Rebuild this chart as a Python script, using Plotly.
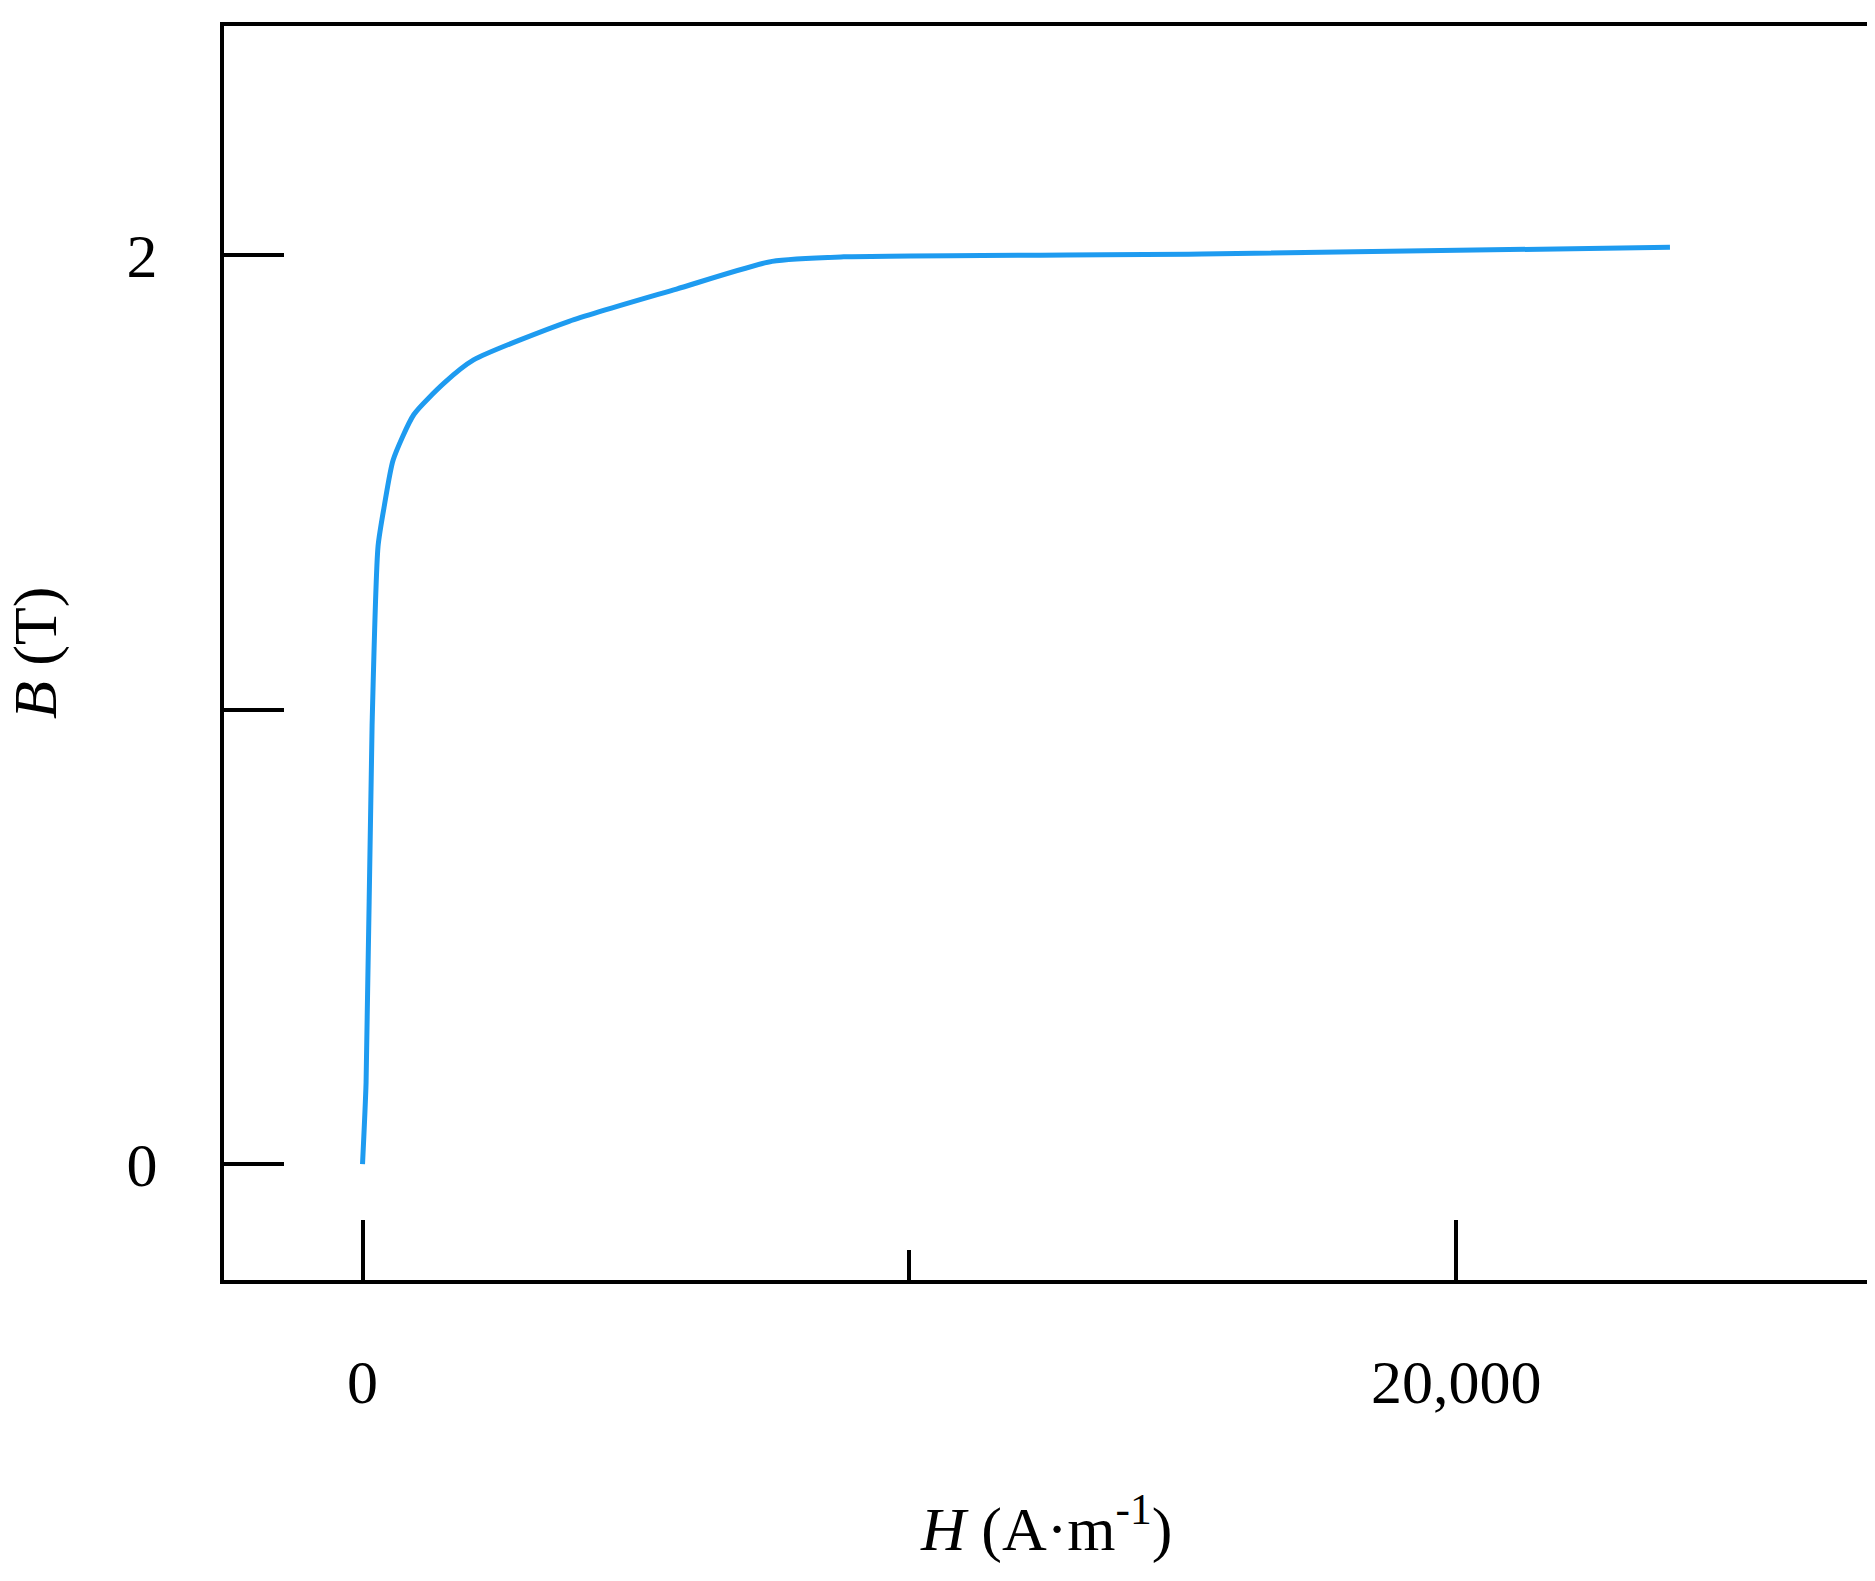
import plotly.graph_objects as go

# B-H magnetisation curve
H = [0, 65, 175, 284, 400, 560, 939, 1500, 2031, 3777, 5742, 7489, 8800, 15350, 23908]
B = [0, 0.18, 0.966, 1.36, 1.45, 1.55, 1.65, 1.72, 1.77, 1.855, 1.926, 1.987, 1.997, 2.003, 2.018]
x_ticks = [0, 20000]
x_tick_labels = ["0", "20,000"]
y_ticks = [0, 2]
y_tick_labels = ["0", "2"]

font = dict(family="Liberation Serif, Times New Roman, serif", size=62, color="black")

fig = go.Figure(go.Scatter(x=H, y=B, mode="lines",
                           line=dict(color="#1E9BF0", width=5, shape="spline", smoothing=0.6)))

fig.update_layout(
    width=1875, height=1581,
    plot_bgcolor="white", paper_bgcolor="white",
    margin=dict(l=216, r=13, t=18, b=309),
    showlegend=False,
    font=font,
    xaxis=dict(range=[-2533, 27511], tickvals=x_ticks, ticktext=x_tick_labels,
               ticks="inside", ticklen=60, tickwidth=4, tickcolor="black",
               minor=dict(dtick=10000, tick0=0, ticks="inside", ticklen=30, tickwidth=4, tickcolor="black"),
               showgrid=False, zeroline=False, showline=True, linecolor="black", linewidth=4,
               mirror=True, ticklabelstandoff=45),
    yaxis=dict(range=[-0.255, 2.505], tickvals=y_ticks, ticktext=y_tick_labels,
               ticks="inside", ticklen=60, tickwidth=4, tickcolor="black",
               minor=dict(dtick=1, tick0=0, ticks="inside", ticklen=60, tickwidth=4, tickcolor="black"),
               showgrid=False, zeroline=False, showline=True, linecolor="black", linewidth=4,
               mirror=True, ticklabelstandoff=50),
    annotations=[
        dict(text="<i>H</i> (A·m<sup>-1</sup>)", xref="paper", yref="paper", x=0.50, y=-0.195,
             showarrow=False, font=font, yanchor="middle"),
        dict(text="<i>B</i> (T)", xref="paper", yref="paper", x=-0.115, y=0.50,
             showarrow=False, font=font, textangle=-90, xanchor="center"),
    ],
)

fig.write_html("out.html")
